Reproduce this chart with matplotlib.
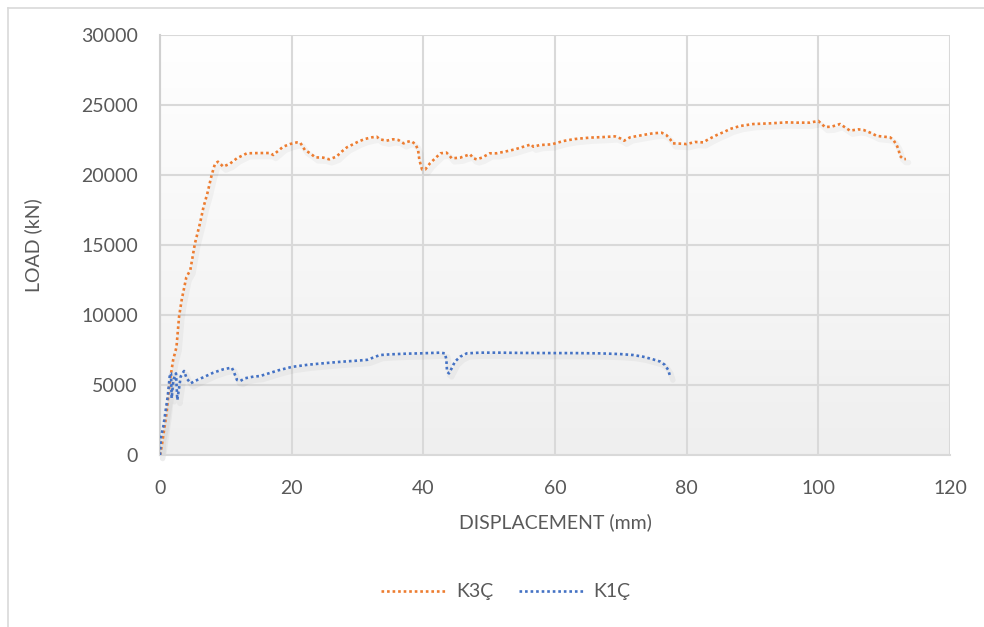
import numpy as np
import matplotlib
matplotlib.use("Agg")
import matplotlib.pyplot as plt
from matplotlib.lines import Line2D

plt.rcParams['font.family'] = ['Lato', 'DejaVu Sans']

# K3Ç series (displacement mm, load kN)
k3_x = [0, 0.25, 1.0, 1.5, 2.0, 2.5, 2.9, 3.3, 4.0, 4.6, 5.3, 6.1, 6.6, 7.2, 7.85, 8.35, 8.8,
        9.6, 10.6, 11.7, 13.2, 15.2, 16.7, 17.2, 18.7, 19.75, 20.8, 21.3, 22.0, 22.8, 23.6,
        24.8, 25.7, 26.8, 27.6, 28.4, 29.1, 30.1, 31.1, 32.2, 32.9, 33.4, 34.4, 35.4, 36.2,
        37.0, 37.5, 38.1, 38.8, 39.2, 39.4, 39.8, 40.3, 41.0, 41.8, 42.6, 43.5, 43.9, 44.3,
        45.6, 47.1, 47.6, 48.1, 48.9, 50.1, 51.1, 52.4, 53.9, 55.2, 56.4, 56.7, 57.7, 59.5,
        61.3, 63.0, 65.3, 67.3, 69.1, 69.9, 70.5, 71.4, 73.4, 74.9, 76.2, 76.9, 77.5, 77.9,
        79.0, 80.0, 81.3, 82.5, 83.3, 84.6, 85.8, 86.6, 88.1, 90.1, 92.7, 95.2, 96.7, 98.7,
        100.0, 101.0, 102.0, 103.3, 104.8, 106.1, 106.9, 107.9, 108.9, 109.9, 110.9, 111.4,
        111.9, 112.2, 112.4, 112.9, 113.3]
k3_y = [0, 600, 3000, 5300, 6800, 7700, 9900, 11100, 12700, 13200, 15100, 16600, 17700, 18700,
        20000, 20800, 20950, 20600, 20800, 21200, 21550, 21570, 21570, 21430, 22020, 22210,
        22330, 22310, 21790, 21550, 21260, 21240, 21120, 21310, 21670, 21980, 22140, 22380,
        22570, 22690, 22740, 22550, 22450, 22550, 22500, 22260, 22360, 22430, 22210, 21790,
        21070, 20400, 20400, 20830, 21190, 21550, 21600, 21430, 21190, 21240, 21480, 21190,
        21120, 21240, 21550, 21550, 21670, 21830, 22020, 22190, 22020, 22140, 22190, 22430,
        22570, 22670, 22710, 22760, 22620, 22450, 22690, 22860, 22980, 23020, 22860, 22550,
        22260, 22240, 22210, 22360, 22330, 22550, 22860, 23100, 23290, 23500, 23640, 23690,
        23760, 23740, 23740, 23860, 23430, 23450, 23640, 23170, 23260, 23210, 23020, 22790,
        22740, 22690, 22500, 22140, 21790, 21360, 21140, 21140]

# K1Ç series
k1_x = [0, 0.15, 0.5, 0.87, 1.17, 1.27, 1.52, 1.67, 1.77, 2.03, 2.43, 2.63, 2.93, 3.14, 3.65,
        4.05, 4.66, 5.32, 6.58, 8.1, 9.6, 10.9, 11.2, 11.7, 12.2, 12.9, 14.2, 15.2, 16.5, 18.0,
        20.0, 22.5, 25.0, 27.5, 30.0, 31.5, 32.5, 33.4, 35.0, 37.5, 39.5, 42.5, 43.3, 43.5,
        43.6, 43.9, 44.3, 44.8, 45.6, 46.6, 48.6, 51.6, 55.0, 60.0, 63.0, 66.8, 69.9, 71.9,
        73.4, 74.9, 76.0, 76.7, 77.2, 77.5]
k1_y = [0, 1310, 2020, 3210, 4170, 4640, 5830, 5830, 4050, 5360, 5830, 3930, 4880, 5600, 6000,
        5480, 5120, 5290, 5550, 5880, 6120, 6240, 5950, 5360, 5290, 5480, 5600, 5640, 5830,
        6050, 6290, 6450, 6560, 6660, 6740, 6800, 6980, 7140, 7190, 7240, 7260, 7310, 7260,
        6790, 5950, 5830, 6190, 6670, 7020, 7260, 7310, 7310, 7290, 7280, 7280, 7260, 7210,
        7140, 7020, 6830, 6670, 6430, 6070, 5600]

x_ticks = [0, 20, 40, 60, 80, 100, 120]
y_ticks = [0, 5000, 10000, 15000, 20000, 25000, 30000]

W, H = 984, 627
fig = plt.figure(figsize=(W / 100, H / 100), dpi=100)
ax = fig.add_axes([160 / W, 1 - 455 / H, (950 - 160) / W, (455 - 35) / H])

# gradient background in plot area (white top -> light grey bottom)
grad = np.linspace(0, 1, 256).reshape(-1, 1)
cmap = matplotlib.colors.LinearSegmentedColormap.from_list('g', ['#ffffff', '#efefef'])
ax.imshow(grad, aspect='auto', cmap=cmap, extent=[0, 1, 0, 1], transform=ax.transAxes,
          zorder=0, interpolation='bicubic')

ax.set_xlim(0, 120)
ax.set_ylim(0, 30000)
ax.set_xticks(x_ticks)
ax.set_yticks(y_ticks)
ax.set_xticklabels([str(t) for t in x_ticks])
ax.set_yticklabels([str(t) for t in y_ticks])
ax.grid(True, color='#d9d9d9', linewidth=1.5, zorder=1)
ax.set_axisbelow(True)
for s in ['top', 'right']:
    ax.spines[s].set_visible(False)
ax.spines['left'].set_color('#d0d0d0')
ax.spines['left'].set_linewidth(1.5)
ax.spines['bottom'].set_color('#d9d9d9')
ax.spines['bottom'].set_linewidth(1.5)
ax.tick_params(length=0, labelsize=14, labelcolor='#595959')
ax.tick_params(axis='x', pad=18)
ax.tick_params(axis='y', pad=16)

dot = (0, (1, 1.1))
# faint shadows
for xs, ys in [(k3_x, k3_y), (k1_x, k1_y)]:
    ax.plot(np.array(xs) + 0.4, np.array(ys) - 250, color='#000000', alpha=0.035,
            linewidth=4, zorder=2, clip_on=False, solid_capstyle='round')
l1, = ax.plot(k3_x, k3_y, color='#ED7D31', linewidth=1.9, linestyle=dot, zorder=3,
              label='K3Ç', dash_capstyle='butt')
l2, = ax.plot(k1_x, k1_y, color='#4472C4', linewidth=1.9, linestyle=dot, zorder=3,
              label='K1Ç', dash_capstyle='butt')

ax.set_xlabel('DISPLACEMENT (mm)', fontsize=14, color='#595959', labelpad=12)
ax.set_ylabel('LOAD (kN)', fontsize=14, color='#595959', labelpad=28)

leg = fig.legend(handles=[l1, l2], loc='center', bbox_to_anchor=(506 / W, 1 - 592 / H),
                 ncol=2, frameon=False, fontsize=14, labelcolor='#595959',
                 handlelength=3.4, columnspacing=1.3, handletextpad=0.45)

# chart border
fig.add_artist(Line2D([8 / W, 8 / W], [0, 1 - 8 / H], color='#d9d9d9', linewidth=1.2))
fig.add_artist(Line2D([8 / W, 1], [1 - 8 / H, 1 - 8 / H], color='#d9d9d9', linewidth=1.2))

fig.savefig('out.png', dpi=100, facecolor='white')
